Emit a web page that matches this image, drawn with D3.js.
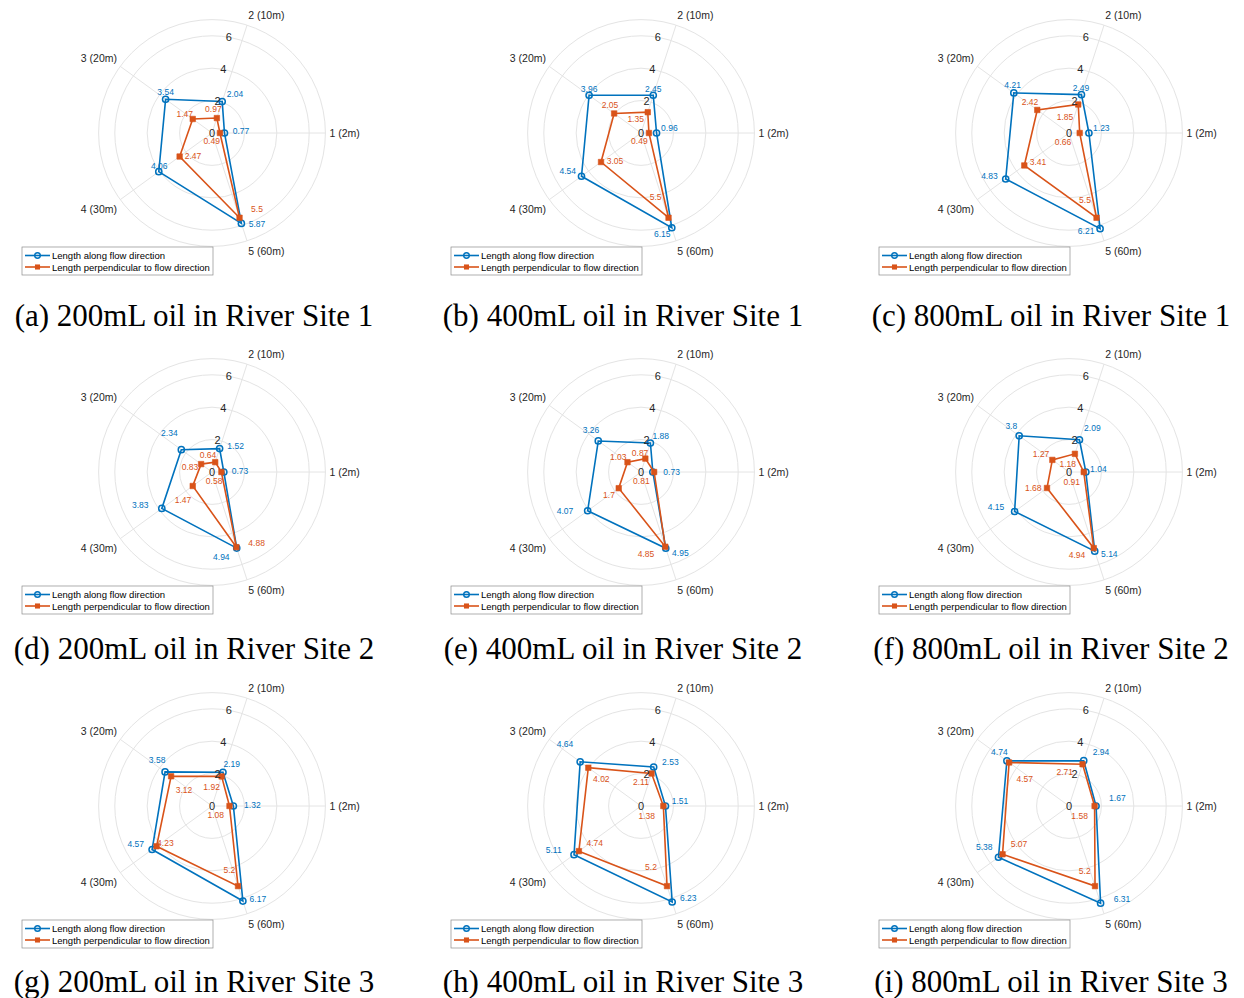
<!DOCTYPE html>
<html>
<head>
<meta charset="utf-8">
<script src="https://cdn.jsdelivr.net/npm/d3@7"></script>
<style>
  body { margin: 0; background: #fff; }
  text { font-family: "Liberation Sans", Arial, sans-serif; }
</style>
</head>
<body>
<svg id="chart"></svg>
<script>
// spokes / categories (distance downstream)
var thetaLabels = ["1 (2m)", "2 (10m)", "3 (20m)", "4 (30m)", "5 (60m)"];
var rTicks = [0, 2, 4, 6];
var rMax = 7;
var seriesNames = ["Length along flow direction", "Length perpendicular to flow direction"];
var captions = [
  "(a) 200mL oil in River Site 1", "(b) 400mL oil in River Site 1", "(c) 800mL oil in River Site 1",
  "(d) 200mL oil in River Site 2", "(e) 400mL oil in River Site 2", "(f) 800mL oil in River Site 2",
  "(g) 200mL oil in River Site 3", "(h) 400mL oil in River Site 3", "(i) 800mL oil in River Site 3"
];

// length along flow direction, one row per panel (a..i)
var alongFlow = [
  [0.77, 2.04, 3.54, 4.06, 5.87],
  [0.96, 2.45, 3.96, 4.54, 6.15],
  [1.23, 2.49, 4.21, 4.83, 6.21],
  [0.73, 1.52, 2.34, 3.83, 4.94],
  [0.73, 1.88, 3.26, 4.07, 4.95],
  [1.04, 2.09, 3.8, 4.15, 5.14],
  [1.32, 2.19, 3.58, 4.57, 6.17],
  [1.51, 2.53, 4.64, 5.11, 6.23],
  [1.67, 2.94, 4.74, 5.38, 6.31]
];
// length perpendicular to flow direction
var perpFlow = [
  [0.49, 0.97, 1.47, 2.47, 5.5],
  [0.49, 1.35, 2.05, 3.05, 5.5],
  [0.66, 1.85, 2.42, 3.41, 5.5],
  [0.58, 0.64, 0.83, 1.47, 4.88],
  [0.81, 0.87, 1.03, 1.7, 4.85],
  [0.91, 1.18, 1.27, 1.68, 4.94],
  [1.08, 1.92, 3.12, 4.23, 5.2],
  [1.38, 2.11, 4.02, 4.74, 5.2],
  [1.58, 2.71, 4.57, 5.07, 5.2]
];

// where each value label sits relative to its marker (px), hand placed like the original
var alongNudge = [
  [[16.5,-2],[12.8,-7.2],[0,-7.6],[0.5,-6],[15.6,0.6]],
  [[12.8,-5.3],[0,-6.3],[0,-6.3],[-13.8,-5.6],[-9.5,6.2]],
  [[12.4,-4.7],[-0.5,-6.3],[-1.2,-7.9],[-16.3,-3.3],[-14,2]],
  [[16.2,-1],[16,-2.6],[-12,-16.3],[-21.5,-3.5],[-15.4,8.6]],
  [[18.8,0],[10.3,-7.3],[-7.3,-10.9],[-22.7,0.2],[14.6,4.4]],
  [[12.5,-3.3],[12.9,-12.1],[-7.9,-9.8],[-18.6,-4.9],[14.6,3.1]],
  [[19,-0.7],[8.7,-8.3],[-8,-11.9],[-16.4,-5.2],[15,-2.3]],
  [[14.5,-5],[16.7,-5.3],[-15.2,-17.8],[-20.3,-4.7],[16.1,-3.7]],
  [[21.3,-8.3],[17.3,-9],[-7.5,-9.2],[-14.2,-10.6],[21.4,-4.5]]
];
var perpNudge = [
  [[-8.3,7.7],[-3.5,-8.7],[-8,-5],[13.4,-0.9],[17.5,-8.4]],
  [[-9.6,7.7],[-12.1,6.8],[-4.1,-8.5],[14,-1.4],[-12.9,-21]],
  [[-16.7,8.7],[-13.3,12.2],[-7.3,-8.3],[13.7,-3.8],[-11.5,-17.7]],
  [[-7.3,9],[-7.2,-6.8],[-11.1,2.9],[-9.7,14.3],[20.2,-4.5]],
  [[-12.8,9],[-5.3,-5.3],[-9.2,-4.9],[-9.7,7.1],[-19.3,7.6]],
  [[-12,10],[-7.2,9.9],[-11.3,-5.6],[-13.7,-0.3],[-16.7,7.2]],
  [[-13.8,9.3],[-10,10.2],[12.9,13.7],[8.8,-2.9],[-8.7,-16.1]],
  [[-16.7,9.7],[-10.6,8.2],[13,11.7],[15.8,-7.8],[-16,-18.8]],
  [[-15,9.7],[-17.9,7.5],[15.6,16.8],[16.4,-10.3],[-10.3,-15.5]]
];

var blue = "#0072BD", orange = "#D95319", ink = "#262626";
var colX = [212, 641, 1069];
var rowY = [133, 472, 806];
var captionY = [326, 659, 992];

var svg = d3.select("#chart").attr("width", 1244).attr("height", 998);
svg.append("rect").attr("width", 1244).attr("height", 998).attr("fill", "#fff");

var radius = d3.scaleLinear().domain([0, rMax]).range([0, 113.4]);
// d3 radial angle: clockwise from 12 o'clock; spoke 1 points east, going counter-clockwise
var angle = d3.scaleLinear().domain([0, thetaLabels.length])
  .range([Math.PI / 2, Math.PI / 2 - 2 * Math.PI]);

function pt(i, v) {
  return [radius(v) * Math.sin(angle(i)), -radius(v) * Math.cos(angle(i))];
}

var outline = d3.lineRadial()
  .angle(function(d, i) { return angle(i); })
  .radius(function(d) { return radius(d); })
  .curve(d3.curveLinearClosed);

for (var k = 0; k < 9; k++) drawPanel(k);

function drawPanel(k) {
  var cx = colX[k % 3], cy = rowY[Math.floor(k / 3)];
  var g = svg.append("g").attr("transform", "translate(" + cx + "," + cy + ")");

  // grid rings + spokes
  g.selectAll(".ring").data(rTicks.slice(1).concat([rMax])).enter().append("circle")
    .attr("r", function(d) { return radius(d); })
    .attr("fill", "none").attr("stroke", "#e4e4e4").attr("stroke-width", 1);
  g.selectAll(".spoke").data(thetaLabels).enter().append("line")
    .attr("x1", 0).attr("y1", 0)
    .attr("x2", function(d, i) { return pt(i, rMax)[0]; })
    .attr("y2", function(d, i) { return pt(i, rMax)[1]; })
    .attr("stroke", "#e4e4e4").attr("stroke-width", 1);

  // spoke labels
  g.selectAll(".tl").data(thetaLabels).enter().append("text")
    .attr("x", function(d, i) { return pt(i, rMax)[0] + (radius(rMax) + 4) / radius(rMax) * 0 + Math.sin(angle(i)) * 4; })
    .attr("y", function(d, i) {
      var c = Math.cos(angle(i));
      return pt(i, rMax)[1] - Math.cos(angle(i)) * 4 + (c > 0.01 ? -6.5 : c < -0.01 ? 6.5 : 0);
    })
    .attr("text-anchor", function(d, i) {
      var s = Math.sin(angle(i));
      return s > 0.01 ? "start" : s < -0.01 ? "end" : "middle";
    })
    .attr("dominant-baseline", "central")
    .attr("font-size", 10.5).attr("fill", ink)
    .text(function(d) { return d; });

  // series outlines
  var series = [
    {vals: alongFlow[k], color: blue, nudge: alongNudge[k], shape: "circle"},
    {vals: perpFlow[k], color: orange, nudge: perpNudge[k], shape: "square"}
  ];
  series.forEach(function(s) {
    g.append("path").attr("d", outline(s.vals))
      .attr("fill", "none").attr("stroke", s.color).attr("stroke-width", 1.6)
      .attr("stroke-linejoin", "miter");
    if (s.shape === "circle") {
      g.selectAll(null).data(s.vals).enter().append("circle")
        .attr("cx", function(d, i) { return pt(i, d)[0]; })
        .attr("cy", function(d, i) { return pt(i, d)[1]; })
        .attr("r", 3.1).attr("fill", "none")
        .attr("stroke", s.color).attr("stroke-width", 1.5);
    } else {
      g.selectAll(null).data(s.vals).enter().append("path")
        .attr("d", d3.symbol(d3.symbolSquare, 30))
        .attr("transform", function(d, i) { var p = pt(i, d); return "translate(" + p[0] + "," + p[1] + ")"; })
        .attr("fill", s.color).attr("stroke", s.color).attr("stroke-width", 0.6);
    }
  });

  // radial tick labels along 80 deg
  var tickAngle = Math.PI / 2 - 80 * Math.PI / 180;
  g.selectAll(".rt").data(rTicks).enter().append("text")
    .attr("x", function(d) { return radius(d) * Math.sin(tickAngle); })
    .attr("y", function(d) { return -radius(d) * Math.cos(tickAngle); })
    .attr("text-anchor", "middle").attr("dominant-baseline", "central")
    .attr("font-size", 11).attr("fill", ink)
    .text(function(d) { return d; });

  // value labels
  series.forEach(function(s) {
    g.selectAll(null).data(s.vals).enter().append("text")
      .attr("x", function(d, i) { return pt(i, d)[0] + s.nudge[i][0]; })
      .attr("y", function(d, i) { return pt(i, d)[1] + s.nudge[i][1]; })
      .attr("text-anchor", "middle").attr("dominant-baseline", "central")
      .attr("font-size", 8.5).attr("fill", s.color)
      .text(function(d) { return d; });
  });

  // legend
  var lg = g.append("g").attr("transform", "translate(-190,114)");
  lg.append("rect").attr("width", 191).attr("height", 28)
    .attr("fill", "#fff").attr("stroke", "#8c8c8c").attr("stroke-width", 0.7);
  seriesNames.forEach(function(name, j) {
    var y = 8.5 + j * 11.5;
    var col = j === 0 ? blue : orange;
    lg.append("line").attr("x1", 3).attr("x2", 28).attr("y1", y).attr("y2", y)
      .attr("stroke", col).attr("stroke-width", 1.6);
    if (j === 0) {
      lg.append("circle").attr("cx", 15.5).attr("cy", y).attr("r", 2.8)
        .attr("fill", "none").attr("stroke", col).attr("stroke-width", 1.4);
    } else {
      lg.append("path").attr("d", d3.symbol(d3.symbolSquare, 26))
        .attr("transform", "translate(15.5," + y + ")").attr("fill", col);
    }
    lg.append("text").attr("x", 30).attr("y", y).attr("dominant-baseline", "central")
      .attr("font-size", 9.5).attr("fill", "#000").text(name);
  });

  // caption
  svg.append("text")
    .attr("x", cx - 18).attr("y", captionY[Math.floor(k / 3)])
    .attr("text-anchor", "middle")
    .style("font-family", "'Liberation Serif', 'Times New Roman', serif")
    .attr("font-size", 31).attr("fill", "#000")
    .text(captions[k]);
}
</script>
</body>
</html>
